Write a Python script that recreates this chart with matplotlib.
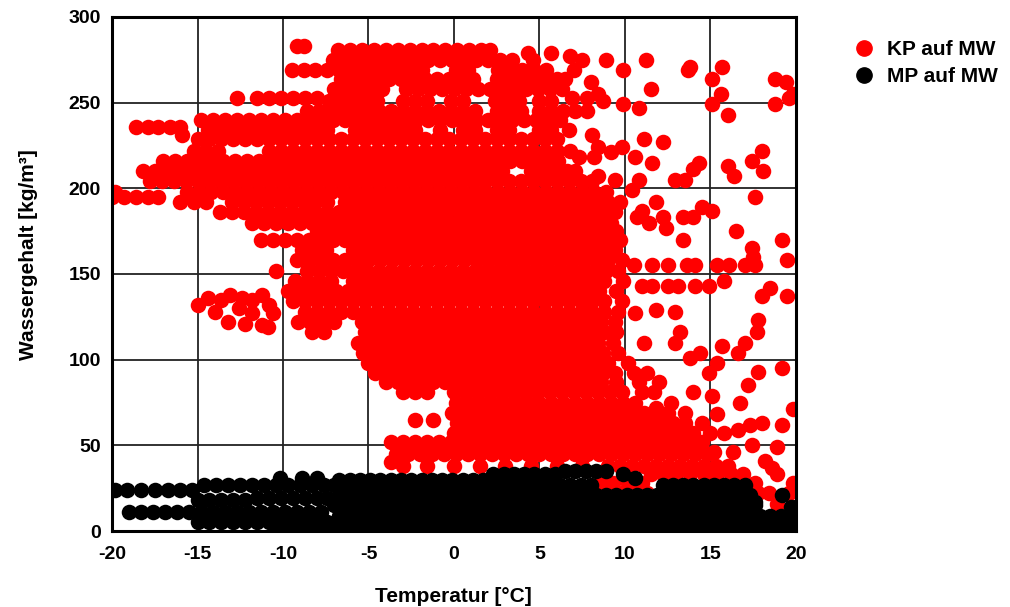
import matplotlib
matplotlib.use("Agg")
import matplotlib.pyplot as plt
from matplotlib.lines import Line2D

plt.rcParams['font.family'] = ['Liberation Sans', 'DejaVu Sans']
plt.rcParams['axes.unicode_minus'] = False

# KP auf MW: water content -> list of temperatures
kp_upper = {
    283: [-9.2, -8.8],
    281: [-6.8, -6.1, -5.4, -4.7, -4.0, -3.3, -2.6, -1.9, -1.2, -0.5, 0.2, 0.9, 1.6, 2.1],
    279: [4.3, 5.7],
    277: [6.8],
    275: [-7.1, -6.4, -5.7, -5.0, -4.3, -3.6, -2.9, -2.2, -1.5, -0.8, -0.1, 0.6, 1.3, 2.0, 2.7, 3.4, 4.6, 7.5, 8.9, 11.2],
    271: [13.8, 15.7],
    269: [-9.5, -8.8, -8.1, -7.4, -6.7, -6.0, -5.3, -4.6, -3.9, -3.2, -2.5, -1.9, 0.1, 0.8, 2.6, 3.3, 4.0, 4.7, 5.4, 7.0, 9.9, 13.7],
    264: [-6.6, -5.9, -5.2, -4.5, -3.8, -3.1, -2.4, -1.7, -1.0, -0.3, 0.4, 1.1, 2.5, 3.2, 3.9, 4.6, 5.3, 6.0, 6.5, 15.1, 18.8],
    262: [8.0, 19.4],
    258: [-7.0, -6.3, -5.6, -4.9, -4.2, -2.8, -2.1, -1.4, -0.7, 0.0, 0.7, 1.4, 2.1, 2.8, 3.5, 4.2, 4.9, 5.6, 6.3, 11.5],
    255: [8.4, 15.6, 19.8],
    253: [-12.7, -11.5, -10.8, -10.1, -9.4, -8.7, -8.0, 6.9, 7.8, 19.6],
    251: [-7.3, -6.6, -5.9, -5.2, -4.5, -3.0, -2.3, -1.6, -0.2, 0.5, 2.4, 3.1, 3.8, 5.0, 5.7, 8.7],
    249: [9.9, 15.1, 18.8],
    247: [10.8],
    245: [-8.6, -7.9, -7.2, -6.5, -5.8, -5.1, -4.4, -3.7, -3.0, -2.3, -1.6, -0.9, -0.2, 0.5, 1.2, 2.5, 3.2, 3.9, 5.0, 5.7, 6.4, 7.1, 7.8],
    243: [16.0],
    240: [-14.8, -14.1, -13.4, -12.7, -12.0, -11.3, -10.6, -9.9, -9.2, -8.5, -7.8, -7.1, -6.4, -5.7, -5.0, -4.3, -3.6, -2.9, -2.2, -1.5, -0.8, -0.1, 0.6, 1.3, 2.0, 2.7, 3.4, 4.1, 4.8, 5.5, 6.2],
    236: [-18.6, -17.9, -17.3, -16.6, -16.0],
    234: [-14.4, -13.7, -13.0, -12.3, -11.6, -10.9, -10.2, -9.5, -8.8, -8.1, -7.4, -5.8, -5.1, -4.4, -3.7, -3.0, -2.3, -0.8, 0.5, 1.2, 2.5, 3.2, 5.0, 5.7, 6.7],
    231: [-15.9, 8.1],
    229: [-15.0, -14.3, -13.6, -12.9, -12.2, -11.5, -10.8, -10.1, -9.4, -8.7, -8.0, -7.3, -6.6, -5.9, -5.2, -4.5, -3.8, -3.1, -2.4, -1.7, -1.0, -0.3, 0.4, 1.1, 1.8, 2.5, 3.2, 3.9, 4.6, 5.3, 6.0, 11.1],
    227: [12.2],
    224: [8.4, 9.8],
    222: [-15.2, -14.5, -13.8, -10.8, -10.1, -9.4, -8.7, -8.0, -7.3, -6.6, -5.9, -5.2, -4.5, -3.8, -3.1, -2.4, -1.7, -1.0, -0.3, 0.4, 1.1, 1.8, 2.5, 3.2, 3.9, 4.6, 5.3, 6.0, 6.8, 18.0],
    221: [9.2],
    218: [7.3, 8.2, 10.6],
    216: [-17.0, -16.3, -15.6, -14.9, -14.2, -13.5, -12.8, -12.1, -11.4, -10.7, -10.0, -9.3, -8.6, -7.9, -7.2, -6.5, -5.8, -5.1, -4.4, -3.7, -3.0, -2.3, -1.6, -0.9, -0.2, 0.5, 1.2, 1.9, 2.6, 3.3, 4.0, 4.7, 5.4, 6.1, 17.4],
    215: [11.6, 14.3],
    213: [16.0],
    211: [14.0],
    210: [-18.2, -17.5, -16.8, -16.1, -15.4, -14.7, -14.0, -13.3, -12.6, -11.9, -11.2, -10.5, -9.8, -9.1, -8.4, -7.7, -7.0, -6.3, -5.6, -4.9, -4.2, -3.5, -2.8, -2.1, -1.4, -0.7, 0.0, 0.7, 1.4, 2.1, 2.8, 4.5, 5.2, 5.9, 6.6, 7.1, 18.1],
    207: [8.4, 16.4],
    205: [9.4, 10.8, 12.9, 13.5],
    204: [-17.8, -17.1, -16.4, -15.7, -15.0, -14.3, -13.6, -12.9, -12.2, -11.5, -10.8, -10.1, -9.4, -8.7, -8.0, -7.3, -6.6, -5.9, -5.2, -4.5, -3.8, -3.1, -2.4, -1.7, -1.0, -0.3, 0.4, 1.1, 1.8, 2.5, 3.2, 3.9, 4.6, 5.3, 6.0, 6.7, 7.4, 8.1],
}

kp_middle = {
    199: [10.4],
    198: [-19.8, -15.6, -14.9, -14.2, -13.5, -12.8, -12.1, -11.4, -10.7, -10.0, -9.3, -8.6, -7.9, -7.2, -6.5, -5.8, -5.1, -4.4, -3.7, -3.0, -2.3, -1.6, -0.9, -0.2, 0.5, 1.2, 1.9, 2.6, 3.3, 4.0, 4.7, 5.4, 6.1, 6.8, 7.5, 8.2, 8.9],
    195: [-20.0, -19.3, -18.6, -17.9, -17.3, 17.6],
    192: [-16.0, -15.2, -14.5, -13.0, -12.3, -11.6, -10.9, -10.2, -9.5, -8.8, -8.1, -7.4, -6.4, -5.7, -5.0, -4.3, -3.6, -2.9, -2.2, -1.5, -0.8, -0.1, 0.6, 1.3, 2.0, 2.7, 3.4, 4.1, 4.8, 5.5, 6.2, 6.9, 7.6, 8.3, 9.0, 9.7, 11.8],
    189: [14.5],
    187: [11.0, 15.1],
    186: [-13.7, -13.0, -12.3, -11.6, -10.9, -10.2, -9.5, -8.8, -8.1, -7.4, -6.7, -6.0, -5.3, -4.6, -3.9, -3.2, -2.5, -1.8, -1.1, -0.4, 0.3, 1.0, 1.7, 2.4, 3.1, 3.8, 4.5, 5.2, 5.9, 6.6, 7.3, 8.0, 8.7, 9.4],
    183: [10.7, 12.2, 13.4, 14.0],
    180: [-11.8, -11.1, -10.4, -9.7, -9.0, -8.3, -7.6, -6.9, -6.2, -5.5, -4.8, -4.1, -3.4, -2.7, -2.0, -1.3, -0.6, 0.1, 0.8, 1.5, 2.2, 2.9, 3.6, 4.3, 5.0, 5.7, 6.4, 7.1, 7.8, 8.5, 9.2, 11.4],
    177: [12.4],
    175: [-8.0, -7.3, -6.6, -5.9, -5.2, -4.5, -3.8, -3.1, -2.4, -1.7, -1.0, -0.3, 0.4, 1.1, 1.8, 2.5, 3.2, 3.9, 4.6, 5.3, 6.0, 6.7, 7.4, 8.1, 8.8, 9.5, 16.5],
    170: [-11.3, -10.6, -9.9, -9.2, -8.5, -7.8, -7.1, -6.4, -5.7, -5.0, -4.3, -3.6, -2.9, -2.2, -1.5, -0.8, -0.1, 0.6, 1.3, 2.0, 2.7, 3.4, 4.1, 4.8, 5.5, 6.2, 6.9, 7.6, 8.3, 9.0, 9.7, 13.4, 19.2],
    165: [17.4],
    164: [-8.9, -8.2, -7.5, -5.9, -5.2, -4.5, -3.8, -3.1, -2.4, -1.7, -1.0, -0.3, 0.4, 1.1, 1.8, 2.5, 3.2, 3.9, 4.6, 5.3, 6.0, 6.7, 7.4, 8.1, 8.8, 9.4],
    160: [17.5],
    158: [-9.2, -8.5, -7.8, -7.1, -6.4, -5.7, -5.0, -4.3, -3.6, -2.9, -2.2, -1.5, -0.8, -0.1, 0.6, 1.3, 2.0, 2.7, 3.4, 4.1, 4.8, 5.5, 6.2, 6.9, 7.6, 8.3, 9.0, 9.8, 19.5],
    155: [10.5, 11.6, 12.5, 13.6, 14.1, 15.4, 16.1, 17.0, 17.6],
    152: [-10.4, -8.6, -7.9, -7.2, -6.5, -5.8, -5.1, -4.4, -3.7, -3.0, -2.3, -1.6, -0.9, -0.2, 0.5, 1.2, 1.9, 2.6, 3.3, 4.0, 4.7, 5.4, 6.1, 6.8, 7.5, 8.2, 8.9, 9.6],
    146: [-9.3, -8.6, -7.9, -7.2, -5.9, -5.2, -4.5, -3.8, -3.1, -2.4, -1.7, -1.0, -0.3, 0.4, 1.1, 1.8, 2.5, 3.2, 3.9, 4.6, 5.3, 6.0, 6.7, 7.4, 8.1, 8.8, 9.9, 15.8],
    143: [11.0, 11.6, 12.5, 13.1, 14.1, 14.9],
    142: [18.5],
    140: [-9.7, -9.0, -8.3, -7.6, -6.9, -6.2, -5.5, -4.8, -4.1, -3.4, -2.7, -2.0, -1.3, -0.6, 0.1, 0.8, 1.5, 2.2, 2.9, 3.6, 4.3, 5.0, 5.7, 6.4, 7.1, 7.8, 8.5, 9.5],
    138: [-13.1, -11.2],
    137: [18.0, 19.5],
    136: [-14.4, -12.4],
    135: [-13.6, -11.8],
    134: [-9.4, -8.7, -8.0, -7.3, -6.6, -5.9, -5.2, -4.5, -3.8, -3.1, -2.4, -1.7, -1.0, -0.3, 0.4, 1.1, 1.8, 2.5, 3.2, 3.9, 4.6, 5.3, 6.0, 6.7, 7.4, 8.1, 8.8, 9.8],
    132: [-15.0, -10.8],
    130: [-12.6],
    129: [11.8],
    128: [-14.0, -8.7, -8.0, -7.3, -6.6, -5.9, -5.2, -4.5, -3.8, -3.1, -2.4, -1.7, -1.0, -0.3, 0.4, 1.1, 1.8, 2.5, 3.2, 3.9, 4.6, 5.3, 6.0, 6.7, 7.4, 8.1, 8.8, 9.6, 12.9],
    127: [-11.8, -10.6, 10.6],
    123: [17.8],
    122: [-13.2, -9.1, -8.4, -7.7, -7.0, -5.4, -4.7, -4.0, -3.3, -2.6, -1.9, -1.2, -0.5, 0.2, 0.9, 1.6, 2.3, 3.0, 3.7, 4.4, 5.1, 5.8, 6.5, 7.2, 7.9, 8.6, 9.4],
    121: [-12.2],
    120: [-11.2],
    119: [-10.9],
    116: [-8.3, -7.6, -5.2, -4.5, -3.8, -3.1, -2.4, -1.7, -1.0, -0.3, 0.4, 1.1, 1.8, 2.5, 3.2, 3.9, 4.6, 5.3, 6.0, 6.7, 7.4, 8.1, 8.8, 9.5, 13.2, 17.7],
    110: [-5.6, -4.9, -4.2, -3.5, -2.8, -2.1, -1.4, -0.7, 0.0, 0.7, 1.4, 2.1, 2.8, 3.5, 4.2, 4.9, 5.6, 6.3, 7.0, 7.7, 8.4, 9.3, 11.1, 12.9, 17.0],
    108: [15.7],
    104: [-5.3, -4.6, -3.9, -3.2, -2.5, -1.8, -1.1, -0.4, 0.3, 1.0, 1.7, 2.4, 3.1, 3.8, 4.5, 5.2, 5.9, 6.6, 7.3, 8.0, 8.7, 9.6, 14.4, 16.6],
    101: [13.8],
}

kp_lower = {
    98: [-5.0, -4.3, -3.6, -2.9, -2.2, -1.5, -0.8, -0.1, 0.6, 1.3, 2.0, 2.7, 3.4, 4.1, 4.8, 5.5, 6.2, 6.9, 7.6, 8.3, 9.0, 10.2, 15.4],
    95: [19.2],
    93: [17.8],
    92: [-4.6, -3.9, -3.2, -2.5, -1.8, -1.1, -0.4, 0.3, 1.0, 1.7, 2.4, 3.1, 3.8, 4.5, 5.2, 5.9, 6.6, 7.3, 8.0, 8.7, 9.4, 10.5, 11.3, 14.9],
    87: [-4.0, -3.3, -2.6, -1.9, -1.2, -0.5, 0.2, 0.9, 1.6, 2.3, 3.0, 3.7, 4.4, 5.1, 5.8, 6.5, 7.2, 7.9, 8.6, 9.5, 10.8, 12.0],
    85: [17.2],
    81: [-3.0, -2.3, -1.6, 0.0, 0.7, 1.4, 2.1, 2.8, 3.5, 4.2, 4.9, 5.6, 6.3, 7.0, 7.7, 8.4, 9.1, 9.8, 11.0, 11.7, 14.0],
    79: [15.1],
    75: [0.1, 0.8, 1.5, 2.2, 2.9, 3.6, 4.3, 5.0, 5.7, 6.4, 7.1, 7.8, 8.5, 9.2, 9.9, 10.6, 12.7, 16.7],
    72: [11.8],
    71: [19.8],
    69: [-0.1, 0.6, 1.3, 2.0, 2.7, 3.4, 4.1, 4.8, 5.5, 6.2, 6.9, 7.6, 8.3, 9.0, 9.7, 10.4, 11.1, 11.8, 12.5, 13.5],
    68: [15.4],
    65: [-2.3, -1.2],
    63: [0.2, 0.9, 1.6, 2.3, 3.0, 3.7, 4.4, 5.1, 5.8, 6.5, 7.2, 7.9, 8.6, 9.3, 10.0, 10.7, 11.4, 12.1, 12.8, 13.5, 14.5, 18.0],
    62: [17.3, 19.2],
    59: [16.6],
    57: [0.0, 0.7, 1.4, 2.1, 2.8, 3.5, 4.2, 4.9, 5.6, 6.3, 7.0, 7.7, 8.4, 9.1, 9.8, 10.5, 11.2, 11.9, 12.6, 13.3, 14.0, 15.0, 15.8],
    52: [-3.7, -3.0, -2.3, -1.6, -0.9, -0.2, 0.5, 1.2, 1.9, 2.6, 3.3, 4.0, 4.7, 5.4, 6.1, 6.8, 7.5, 8.2, 8.9, 9.6, 10.3, 11.0, 11.7, 12.4, 13.1, 13.8, 14.5],
    50: [17.4],
    49: [18.9],
    46: [15.2, 16.3],
    45: [-3.4, -2.7, -2.0, -1.3, -0.6, 0.1, 0.8, 1.5, 2.2, 2.9, 3.6, 4.3, 5.0, 5.7, 6.4, 7.1, 7.8, 8.5, 9.2, 9.9, 10.6, 11.3, 12.0, 12.7, 13.4, 14.1, 14.8],
    41: [18.2],
    40: [-3.7],
    38: [-3.0, -1.6, 0.0, 1.5, 3.0, 4.5, 6.0, 7.5, 9.0, 9.7, 10.4, 11.1, 11.8, 12.5, 13.2, 13.9, 14.6, 15.3, 16.0],
    37: [18.6],
    33: [11.5, 12.2, 13.0, 13.8, 14.6, 15.4, 16.2, 16.9, 18.9],
    28: [8.6, 9.3, 10.2, 11.0, 17.0, 17.6, 19.8],
    22: [9.0, 9.8, 10.6, 11.3, 17.8, 18.4, 19.6],
    16: [18.9],
}

# MP auf MW
mp_left = {
    31: [-10.2, -8.9, -8.0],
    27: [-14.6, -13.9, -13.2, -12.5, -11.8, -11.1, -10.4, -9.7, -9.0, -8.3, -7.6],
    24: [-19.8, -19.1, -18.3, -17.5, -16.7, -16.0, -15.3],
    19: [-11.5, -10.8, -10.1, -9.4, -8.7, -8.0, -7.4],
    18: [-15.0, -14.3, -13.6, -12.9, -12.2],
    11: [-19.0, -18.3, -17.6, -16.9, -16.2, -15.5, -14.8, -14.1, -13.4, -12.7, -12.0, -11.3, -10.6, -9.9, -9.2, -8.5, -7.8],
    5: [-15.0, -14.3, -13.6, -12.9, -12.2, -11.5, -10.8, -10.1, -9.4, -8.7, -8.0, -7.4],
    1: [-10.3, -9.6, -8.9, -8.2, -7.5],
}

mp_main = {
    35: [6.5, 7.1, 7.7, 8.3, 8.9],
    33: [2.3, 2.9, 3.5, 4.1, 4.7, 5.3, 5.9, 9.9],
    31: [10.6],
    30: [-6.7, -6.1, -5.5, -4.9, -4.3, -3.7, -3.1, -2.5, -1.9, -1.3, -0.7, -0.1, 0.5, 1.1, 1.7],
    27: [-7.0, -6.4, -5.8, -5.2, -4.6, -4.0, -3.4, -2.8, -2.2, -1.6, -1.0, -0.4, 0.2, 0.8, 1.4, 2.0, 2.6, 3.2, 3.8, 4.4, 5.0, 5.6, 6.2, 6.8, 7.4, 8.0,
         12.2, 12.8, 13.4, 14.0, 14.6, 15.2, 15.8, 16.4, 17.0],
    21: [-6.7, -6.1, -5.5, -4.9, -4.3, -3.7, -3.1, -2.5, -1.9, -1.3, -0.7, -0.1, 0.5, 1.1, 1.7, 2.3, 2.9, 3.5, 4.1, 4.7, 5.3, 5.9, 6.5, 7.1, 7.7,
         8.3, 8.9, 9.5, 10.1, 10.7, 11.3, 11.9, 12.5, 13.1, 13.7, 14.3, 14.9, 15.5, 16.1, 16.7, 17.3, 19.2],
    17: [17.6],
    15: [-7.0, -6.4, -5.8, -5.2, -4.6, -4.0, -3.4, -2.8, -2.2, -1.6, -1.0, -0.4, 0.2, 0.8, 1.4, 2.0, 2.6, 3.2, 3.8, 4.4, 5.0, 5.6, 6.2, 6.8, 7.4,
         8.0, 8.6, 9.2, 9.8, 10.4, 11.0, 11.6, 12.2, 12.8, 13.4, 14.0, 14.6, 15.2, 15.8, 16.4, 17.0, 17.6],
    14: [19.7, 20.0],
    9: [-6.7, -6.1, -5.5, -4.9, -4.3, -3.7, -3.1, -2.5, -1.9, -1.3, -0.7, -0.1, 0.5, 1.1, 1.7, 2.3, 2.9, 3.5, 4.1, 4.7, 5.3, 5.9, 6.5, 7.1, 7.7,
        8.3, 8.9, 9.5, 10.1, 10.7, 11.3, 11.9, 12.5, 13.1, 13.7, 14.3, 14.9, 15.5, 16.1, 16.7, 17.3, 17.9, 18.5, 19.1, 19.7],
    3: [-7.0, -6.4, -5.8, -5.2, -4.6, -4.0, -3.4, -2.8, -2.2, -1.6, -1.0, -0.4, 0.2, 0.8, 1.4, 2.0, 2.6, 3.2, 3.8, 4.4, 5.0, 5.6, 6.2, 6.8, 7.4,
        8.0, 8.6, 9.2, 9.8, 10.4, 11.0, 11.6, 12.2, 12.8, 13.4, 14.0, 14.6, 15.2, 15.8, 16.4, 17.0, 17.6, 18.2, 18.8, 19.4, 20.0],
}

x_ticks = [-20, -15, -10, -5, 0, 5, 10, 15, 20]
y_ticks = [0, 50, 100, 150, 200, 250, 300]


def flatten(*tables):
    xs, ys = [], []
    for table in tables:
        for w, temps in table.items():
            for t in temps:
                xs.append(t)
                ys.append(w)
    return xs, ys


kp_x, kp_y = flatten(kp_upper, kp_middle, kp_lower)
mp_x, mp_y = flatten(mp_left, mp_main)

fig = plt.figure(figsize=(10.10, 6.07), dpi=100)
ax = fig.add_axes([0.1109, 0.1252, 0.6772, 0.8468])

ax.scatter(kp_x, kp_y, s=125, c='#ff0000', linewidths=0, zorder=3)
ax.scatter(mp_x, mp_y, s=125, c='#000000', linewidths=0, zorder=4)

ax.set_xlim(-20, 20)
ax.set_ylim(0, 300)
ax.set_xticks(x_ticks)
ax.set_yticks(y_ticks)
ax.grid(True, color='#222222', linewidth=1.3, zorder=1)
ax.set_axisbelow(True)
for sp in ax.spines.values():
    sp.set_linewidth(2.2)
    sp.set_zorder(5)
ax.tick_params(length=0, labelsize=14, pad=8)
ax.tick_params(axis='x', pad=11)
for lab in ax.get_xticklabels() + ax.get_yticklabels():
    lab.set_fontweight('bold')

ax.set_xlabel('Temperatur [°C]', fontsize=15, fontweight='bold')
ax.set_ylabel('Wassergehalt [kg/m³]', fontsize=15, fontweight='bold')
ax.xaxis.set_label_coords(0.499, -0.108)
ax.yaxis.set_label_coords(-0.108, 0.537)

handles = [
    Line2D([], [], marker='o', linestyle='', color='#ff0000', markersize=11),
    Line2D([], [], marker='o', linestyle='', color='#000000', markersize=11),
]
fig.legend(handles, ['KP auf MW', 'MP auf MW'], loc='upper left',
           bbox_to_anchor=(0.827, 0.965), frameon=False,
           prop={'weight': 'bold', 'size': 15}, handletextpad=0.6,
           labelspacing=0.4, handlelength=1.0)

fig.savefig('out.png', dpi=100)
